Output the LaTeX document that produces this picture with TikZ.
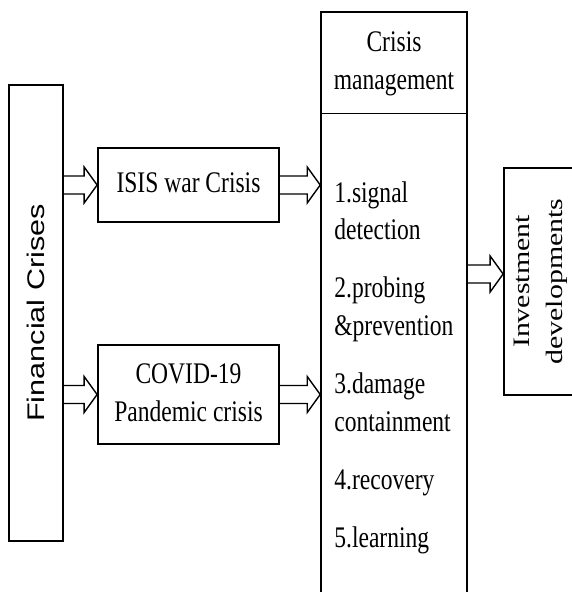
\documentclass[tikz,border=0pt]{standalone}
\usepackage{fontspec}
\setmainfont{Liberation Serif}
\newfontfamily\arialfont{Liberation Sans}
\usepackage{graphicx}
\usetikzlibrary{calc}

\newcommand\tall[2][c]{\scalebox{1}[1.27]{\begin{tabular}[t]{@{}#1@{}}#2\end{tabular}}}

\tikzset{
  box/.style={draw, line width=1pt, inner sep=0pt},
  hollow/.style={line width=0.8pt, to path={let \p1=(\tikztostart), \p2=(\tikztotarget) in
    (\x1,\y1+0.18cm) -- (\x2-0.26cm,\y1+0.18cm) -- (\x2-0.26cm,\y1+0.36cm) -- (\x2,\y1)
    -- (\x2-0.26cm,\y1-0.36cm) -- (\x2-0.26cm,\y1-0.18cm) -- (\x1,\y1-0.18cm)}}
}

\begin{document}
\begin{tikzpicture}[font=\fontsize{13.4}{17}\selectfont]
  \useasboundingbox (0,0) rectangle (11.44,-11.84);

  \node[box, minimum width=1.08cm, minimum height=9.12cm] (fin) at (0.72,-6.26)
    {\rotatebox{90}{\scalebox{1.27}[1]{\arialfont\fontsize{13.7}{16}\selectfont Financial Crises}}};

  \node[box, minimum width=3.62cm, minimum height=1.48cm] (isis) at (3.77,-3.70) {\tall{ISIS war Crisis}};
  \node[box, minimum width=3.62cm, minimum height=1.98cm] (covid) at (3.77,-7.89) {\tall{COVID-19\\Pandemic crisis}};

  \node[box, line width=0.9pt, minimum width=2.92cm, minimum height=11.76cm] (mgmt) at (7.88,-6.12) {};
  \coordinate (split) at (7.88,-2.26);
  \draw[line width=0.5pt] (mgmt.west |- split) -- (mgmt.east |- split);
  \node (head) at (7.88,-1.25) {\tall{Crisis\\management}};
  \node[anchor=base west, inner sep=0pt] (steps) at (6.68,-4.04)
    {\tall[l]{1.signal\\detection\\[9pt]2.probing\\\&prevention\\[9pt]3.damage\\containment\\[9pt]4.recovery\\[9pt]5.learning}};

  \node[box, minimum width=1.42cm, minimum height=4.54cm] (inv) at (10.79,-5.63)
    {\rotatebox{90}{\scalebox{1.27}[1]{\fontsize{13.4}{18.8}\selectfont\begin{tabular}{@{}c@{}}Investment\\developments\end{tabular}}}};
  \coordinate (invin) at ([yshift=0.15cm]inv.west);

  \draw[hollow] (fin.east |- isis) to (isis.west);
  \draw[hollow] (fin.east |- covid) to (covid.west);
  \draw[hollow] (isis.east) to (mgmt.west |- isis);
  \draw[hollow] (covid.east) to (mgmt.west |- covid);
  \draw[hollow] (mgmt.east |- invin) to (invin);
\end{tikzpicture}
\end{document}
